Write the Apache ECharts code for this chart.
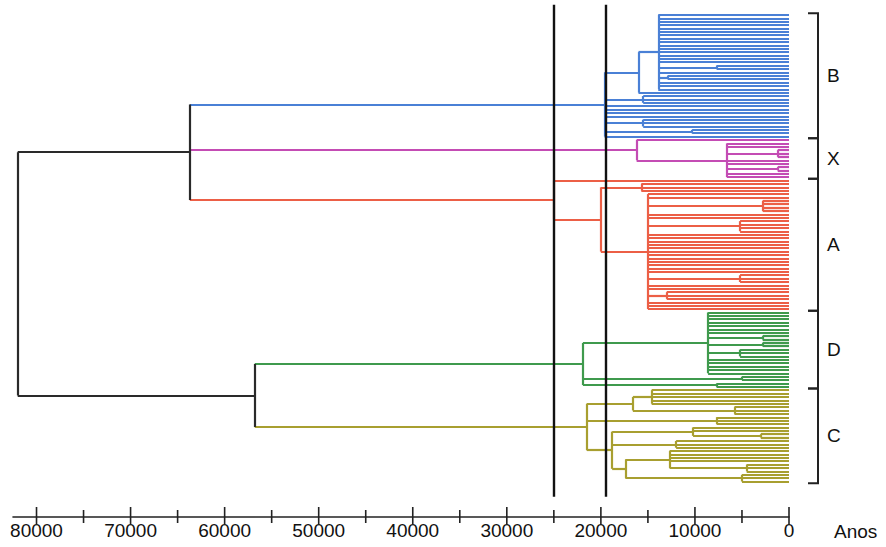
<!DOCTYPE html>
<html>
<head>
<meta charset="utf-8">
<script src="https://cdn.jsdelivr.net/npm/echarts@6/dist/echarts.min.js"></script>
<style>
    html, body {margin: 0; padding: 0; background: #fff;}
    #chart {width: 886px; height: 547px;}
</style>
</head>
<body>
<div id="chart"></div>
<script>
// each node: [merge height in years, ...children]; a plain number = that many leaves joining there
const treeB = [19600, [16000, [13900, 15, [7700, 2], 1, [12900, 2], 3], 1], [15500, 3], 4, [15500, 3], [10300, 2], 1];
const treeX = [16200, 1, [6600, 2, [1200, 3], 2, [1200, 2], 2]];
const treeA = [25000, 1, [20000, [15700, 3], [15000, 2, [2800, 4], 2, [5200, 4], 12, [5200, 3], 2, [13000, 3], 3]]];
const treeD = [21900, [8600, 7, [2800, 2], [2800, 2], [5200, 3], 5], [5000, 2], [7700, 2]];
const treeC = [21500, [16600, [14600, 5], [5800, 3]], [7700, 3],
    [18800, [10200, 2, [3000, 2]], [12000, 3], [17400, [12700, 4, [4500, 3]], [5000, 3]]]];

const clusterNames = ['B', 'X', 'A', 'D', 'C'];
const clusterTrees = [treeB, treeX, treeA, treeD, treeC];
const upperJoin = 63700;   // B + X + A
const lowerJoin = 56800;   // D + C
const rootJoin = 82000;
const cutLines = [25000, 19500];
const tickValues = [0, 10000, 20000, 30000, 40000, 50000, 60000, 70000, 80000];
const minorTickValues = [5000, 15000, 25000, 35000, 45000, 55000, 65000, 75000];

const clusterColors = ['#4a80d6', '#c44cb4', '#ec5f46', '#3f9a4d', '#a89f30'];
const darkColor = '#2a2a2a';
const yMin = -4.4, yMax = 148.5;

let nextLeaf = 0;
const segs = clusterColors.map(() => []);
const darkSegs = [];

function build(node, list) {
    const h = node[0];
    const ys = [];
    node.slice(1).forEach(ch => {
        if (typeof ch === 'number') {
            for (let k = 0; k < ch; k++) {
                const y = nextLeaf++;
                list.push([[0, y], [h, y]]);
                ys.push(y);
            }
        } else {
            const r = build(ch, list);
            list.push([[r.h, r.y], [h, r.y]]);
            ys.push(r.y);
        }
    });
    list.push([[h, ys[0]], [h, ys[ys.length - 1]]]);
    return {h: h, y: (ys[0] + ys[ys.length - 1]) / 2};
}

const clusterInfo = clusterTrees.map((t, i) => {
    const first = nextLeaf;
    const r = build(t, segs[i]);
    return {h: r.h, y: r.y, first: first, last: nextLeaf - 1};
});

function joinGroup(h, idxs) {
    idxs.forEach(i => segs[i].push([[clusterInfo[i].h, clusterInfo[i].y], [h, clusterInfo[i].y]]));
    const y0 = clusterInfo[idxs[0]].y, y1 = clusterInfo[idxs[idxs.length - 1]].y;
    darkSegs.push([[h, y0], [h, y1]]);
    return (y0 + y1) / 2;
}
const upperY = joinGroup(upperJoin, [0, 1, 2]);
const lowerY = joinGroup(lowerJoin, [3, 4]);
darkSegs.push([[upperJoin, upperY], [rootJoin, upperY]]);
darkSegs.push([[lowerJoin, lowerY], [rootJoin, lowerY]]);
darkSegs.push([[rootJoin, upperY], [rootJoin, lowerY]]);

const chart = echarts.init(document.getElementById('chart'), null, {renderer: 'svg'});

const series = clusterColors.map((c, i) => ({
    type: 'lines',
    coordinateSystem: 'cartesian2d',
    polyline: false,
    silent: true,
    lineStyle: {color: c, width: 2.2, opacity: 1},
    data: segs[i].map(s => ({coords: s}))
}));
series.push({
    type: 'lines', coordinateSystem: 'cartesian2d', silent: true,
    lineStyle: {color: darkColor, width: 2.2, opacity: 1},
    data: darkSegs.map(s => ({coords: s}))
});
series.push({
    type: 'lines', coordinateSystem: 'cartesian2d', silent: true,
    lineStyle: {color: '#111', width: 2.4, opacity: 1},
    data: cutLines.map(v => ({coords: [[v, -3], [v, 142.5]]}))
});
// tick marks crossing the axis line (major, then minor)
series.push({
    type: 'custom',
    coordinateSystem: 'cartesian2d',
    silent: true,
    data: tickValues.map(v => [v, 1]).concat(minorTickValues.map(v => [v, 0])),
    renderItem: function (params, api) {
        const p = api.coord([api.value(0), yMax]);
        const major = api.value(1) === 1;
        return {
            type: 'line',
            shape: {x1: p[0], y1: p[1] - (major ? 10 : 7), x2: p[0], y2: p[1] + (major ? 8 : 6)},
            style: {stroke: '#222', lineWidth: 1.6}
        };
    }
});
// cluster brackets and letters
series.push({
    type: 'custom',
    coordinateSystem: 'cartesian2d',
    silent: true,
    data: clusterInfo.map((c, i) => [c.first, c.last, i]),
    renderItem: function (params, api) {
        const top = api.coord([0, api.value(0) - 0.5]);
        const bot = api.coord([0, api.value(1) + 0.5]);
        const x = top[0] + 29;
        return {
            type: 'group',
            children: [{
                type: 'polyline',
                shape: {points: [[x - 10, top[1]], [x, top[1]], [x, bot[1]], [x - 10, bot[1]]]},
                style: {stroke: '#222', lineWidth: 2, fill: null}
            }, {
                type: 'text',
                style: {
                    text: clusterNames[api.value(2)], x: x + 9, y: (top[1] + bot[1]) / 2,
                    font: '19px "Liberation Sans", Arial, sans-serif', fill: '#111',
                    align: 'left', verticalAlign: 'middle',
                    textAlign: 'left', textVerticalAlign: 'middle'
                }
            }]
        };
    }
});

chart.setOption({
    animation: false,
    backgroundColor: '#fff',
    grid: {left: 13, right: 97, top: 0, bottom: 30},
    xAxis: {
        type: 'value', inverse: true, min: 0, max: 82500,
        splitLine: {show: false},
        axisLine: {show: true, onZero: false, lineStyle: {color: '#222', width: 1.6}},
        axisTick: {show: false},
        axisLabel: {
            show: true, customValues: tickValues, margin: 4,
            fontSize: 19, color: '#111', fontFamily: '"Liberation Sans", Arial, sans-serif',
            formatter: v => String(v)
        }
    },
    yAxis: {type: 'value', inverse: true, min: yMin, max: yMax, show: false},
    graphic: [{
        type: 'text', left: 834, top: 522,
        style: {text: 'Anos', font: '19px "Liberation Sans", Arial, sans-serif', fill: '#111'}
    }],
    series: series
});
</script>
</body>
</html>
